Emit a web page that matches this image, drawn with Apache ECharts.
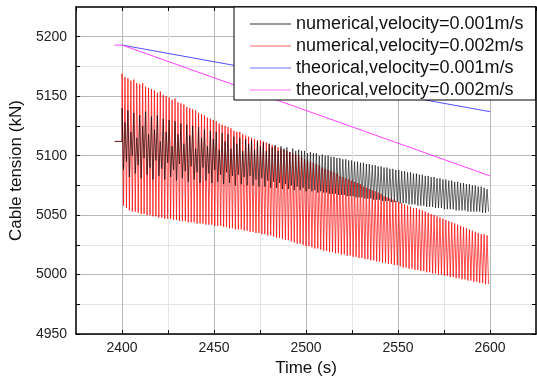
<!DOCTYPE html>
<html>
<head>
<meta charset="utf-8">
<script src="https://cdn.jsdelivr.net/npm/echarts@6/dist/echarts.min.js"></script>
<style>
html,body{margin:0;padding:0;background:#fff;}
#chart{width:537px;height:382px;}
</style>
</head>
<body>
<div id="chart"></div>
<script>
// ---- data ----
const seriesNames = [
  'numerical,velocity=0.001m/s',
  'numerical,velocity=0.002m/s',
  'theorical,velocity=0.001m/s',
  'theorical,velocity=0.002m/s'
];
// oscillation sampled every half cycle: cycle period 1.6 s, starting at 2400 s
const oscStart = 2400;
const oscPeriod = 1.6;

// short flat segment before the start
const preTime = [2396, 2400];
const preRed = [5112, 5112];
const preBlack = [5112, 5112];

const redPeaks = [
  5169,5166,5165,5163,5164,5161,5160,5161,5158,5157,
  5156,5155,5153,5154,5151,5150,5149,5147,5148,5145,
  5144,5143,5141,5140,5139,5138,5136,5135,5134,5132,
  5131,5130,5129,5127,5126,5125,5124,5123,5121,5120,
  5120,5118,5117,5116,5115,5114,5113,5113,5112,5111,
  5110,5109,5108,5107,5106,5105,5104,5103,5102,5101,
  5100,5099,5097,5096,5095,5094,5093,5092,5090,5089,
  5088,5087,5086,5085,5083,5082,5081,5080,5079,5078,
  5077,5076,5074,5073,5072,5071,5070,5069,5068,5066,
  5065,5064,5063,5062,5061,5060,5059,5058,5057,5056,
  5056,5055,5054,5053,5052,5051,5050,5049,5048,5047,
  5046,5045,5044,5043,5042,5041,5040,5039,5038,5037,
  5036,5035,5034,5034,5033
];
const redTroughs = [
  5058,5056,5054,5053,5053,5052,5051,5051,5050,5050,
  5049,5049,5048,5048,5047,5047,5047,5046,5046,5045,
  5045,5045,5044,5044,5044,5043,5043,5043,5042,5042,
  5042,5041,5041,5041,5040,5040,5039,5039,5038,5038,
  5038,5037,5037,5036,5036,5035,5035,5034,5034,5033,
  5033,5032,5031,5031,5030,5029,5029,5028,5027,5026,
  5026,5025,5024,5024,5023,5022,5022,5021,5020,5020,
  5019,5019,5018,5018,5017,5017,5016,5016,5015,5015,
  5014,5014,5013,5013,5012,5012,5011,5011,5010,5010,
  5009,5009,5008,5008,5007,5006,5006,5005,5005,5004,
  5004,5003,5003,5002,5002,5001,5001,5000,5000,4999,
  4999,4998,4998,4997,4997,4996,4996,4995,4995,4994,
  4994,4993,4993,4992,4992
];
const blackPeaks = [
  5140,5128,5138,5120,5136,5115,5134,5125,5137,5118,
  5133,5122,5134,5112,5131,5120,5130,5108,5129,5118,
  5127,5110,5126,5117,5125,5106,5124,5115,5122,5108,
  5121,5114,5120,5105,5119,5112,5118,5106,5116,5110,
  5115,5104,5114,5110,5113,5105,5112,5108,5111,5104,
  5110,5107,5109,5104,5108,5106,5107,5103,5106,5104,
  5105,5104,5104,5102,5103,5102,5102,5100,5101,5100,
  5100,5099,5099,5098,5098,5097,5097,5096,5096,5095,
  5095,5094,5094,5093,5093,5092,5092,5091,5091,5090,
  5090,5089,5089,5088,5088,5087,5087,5086,5086,5085,
  5085,5084,5084,5083,5083,5082,5082,5081,5081,5080,
  5080,5079,5079,5078,5078,5077,5077,5076,5076,5075,
  5075,5074,5074,5073,5072
];
const blackTroughs = [
  5088,5095,5082,5100,5085,5092,5081,5098,5084,5090,
  5080,5096,5083,5089,5080,5094,5082,5088,5079,5093,
  5081,5087,5078,5091,5080,5086,5077,5090,5079,5085,
  5077,5088,5078,5084,5076,5086,5077,5083,5075,5084,
  5076,5082,5075,5083,5075,5080,5074,5081,5074,5079,
  5073,5078,5073,5077,5072,5076,5072,5075,5071,5074,
  5071,5073,5070,5072,5070,5071,5069,5070,5069,5069,
  5068,5068,5068,5067,5067,5067,5066,5066,5066,5065,
  5065,5065,5064,5064,5064,5063,5063,5063,5062,5062,
  5062,5061,5061,5061,5060,5060,5060,5059,5059,5059,
  5058,5058,5058,5057,5057,5057,5056,5056,5056,5055,
  5055,5055,5055,5054,5054,5054,5054,5053,5053,5053,
  5053,5053,5052,5052,5053
];
const theoTime1 = [2400, 2600];
const theoVal1 = [5193, 5137];
const theoTime2 = [2396, 2400, 2600];
const theoVal2 = [5193, 5193, 5083];

const xTickLabels = [2400, 2450, 2500, 2550, 2600];
const yTickLabels = [4950, 5000, 5050, 5100, 5150, 5200];

// ---- build series data ----
function oscSeries(preT, preV, peaks, troughs) {
  const out = preT.map((t, i) => [t, preV[i]]);
  for (let i = 0; i < peaks.length; i++) {
    const t = oscStart + i * oscPeriod;
    out.push([t, peaks[i]]);
    out.push([t + oscPeriod / 2, troughs[i]]);
  }
  return out;
}
const blackData = oscSeries(preTime, preBlack, blackPeaks, blackTroughs);
const redData = oscSeries(preTime, preRed, redPeaks, redTroughs);
const blueData = theoTime1.map((t, i) => [t, theoVal1[i]]);
const magData = theoTime2.map((t, i) => [t, theoVal2[i]]);

const FONT = '"Liberation Sans", Arial, sans-serif';
const chart = echarts.init(document.getElementById('chart'), null, {renderer: 'canvas'});

const baseX = {
  type: 'value', min: 2375, max: 2625, interval: 25,
  axisLine: {show: true, onZero: false, lineStyle: {color: '#000', width: 1.5}},
  axisTick: {show: true, inside: true, length: 4, lineStyle: {color: '#000', width: 1}}
};
const baseY = {
  type: 'value', min: 4950, max: 5225, interval: 25,
  axisLine: {show: true, onZero: false, lineStyle: {color: '#000', width: 1.5}},
  axisTick: {show: true, inside: true, length: 4, lineStyle: {color: '#000', width: 1}}
};

const legendColors = ['#333', '#ff6060', '#7070ff', '#ff70ff'];

chart.setOption({
  animation: false,
  backgroundColor: '#fff',
  grid: {left: 74, top: 7, right: 1, bottom: 38},
  legend: {
    show: true,
    orient: 'vertical', left: 234, top: 7,
    padding: [8, 12, 1, 16],
    itemWidth: 41, itemHeight: 1, itemGap: 4,
    borderColor: '#000', borderWidth: 1, backgroundColor: '#fff',
    textStyle: {fontFamily: FONT, fontSize: 18, color: '#111', lineHeight: 15},
    data: seriesNames.map((n, i) => ({name: n, icon: 'rect', itemStyle: {color: legendColors[i]}}))
  },
  xAxis: [
    Object.assign({}, baseX, {
      position: 'bottom',
      name: 'Time (s)', nameLocation: 'middle', nameGap: 21,
      nameTextStyle: {fontFamily: FONT, fontSize: 17, color: '#111'},
      axisLabel: {
        margin: 7, fontFamily: FONT, fontSize: 14, color: '#222',
        showMinLabel: false, showMaxLabel: false,
        formatter: v => (xTickLabels.indexOf(v) >= 0 ? String(v) : '')
      },
      splitLine: {show: true, lineStyle: {color: ['#e4e4e4', '#b8b8b8'], width: 1}}
    }),
    Object.assign({}, baseX, {
      position: 'top', axisLabel: {show: false}, splitLine: {show: false}
    })
  ],
  yAxis: [
    Object.assign({}, baseY, {
      position: 'left',
      name: 'Cable tension (kN)', nameLocation: 'middle', nameGap: 41,
      nameTextStyle: {fontFamily: FONT, fontSize: 17, color: '#111'},
      axisLabel: {
        margin: 9, fontFamily: FONT, fontSize: 14, color: '#222',
        showMaxLabel: false,
        formatter: v => (yTickLabels.indexOf(v) >= 0 ? String(v) : '')
      },
      splitLine: {show: true, lineStyle: {color: ['#b8b8b8', '#e4e4e4'], width: 1}}
    }),
    Object.assign({}, baseY, {
      position: 'right', axisLabel: {show: false}, splitLine: {show: false}
    })
  ],
  series: [
    {
      name: seriesNames[0], type: 'line', data: blackData, symbol: 'none', z: 4,
      lineStyle: {color: '#000', width: 0.6}, itemStyle: {color: '#000'}
    },
    {
      name: seriesNames[1], type: 'line', data: redData, symbol: 'none', z: 3,
      lineStyle: {color: '#ff0000', width: 0.7}, itemStyle: {color: '#ff0000'}
    },
    {
      name: seriesNames[2], type: 'line', data: blueData, symbol: 'none', z: 3,
      lineStyle: {color: '#5050ff', width: 1}, itemStyle: {color: '#5050ff'}
    },
    {
      name: seriesNames[3], type: 'line', data: magData, symbol: 'none', z: 3,
      lineStyle: {color: '#ff40ff', width: 1}, itemStyle: {color: '#ff40ff'}
    }
  ]
});
</script>
</body>
</html>
